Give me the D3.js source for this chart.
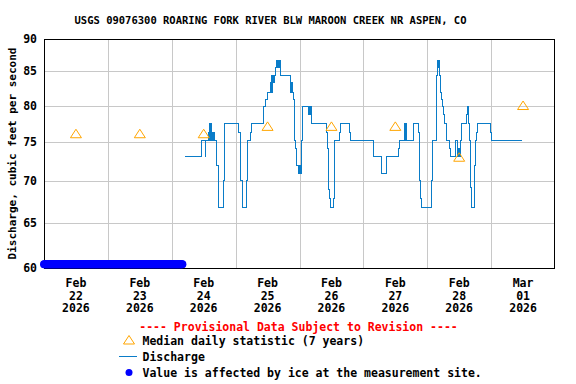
<!DOCTYPE html>
<html>
<head>
<meta charset="utf-8">
<script src="https://cdnjs.cloudflare.com/ajax/libs/d3/7.8.5/d3.min.js"></script>
<style>
  body { margin: 0; background: #fff; }
  text { font-family: "DejaVu Sans Mono", monospace; font-weight: bold; fill: #000; }
  .grid line { stroke: #c8c8c8; stroke-width: 1px; shape-rendering: crispEdges; }
  .flow { fill: none; stroke: #0a7cc8; stroke-width: 1px; shape-rendering: crispEdges; }
  .median { fill: none; stroke: #ffa500; stroke-width: 1px; }
</style>
</head>
<body>
<script>

// chart text
var title = "USGS 09076300 ROARING FORK RIVER BLW MAROON CREEK NR ASPEN, CO";
var yLabel = "Discharge, cubic feet per second";
var provisional = "---- Provisional Data Subject to Revision ----";
var legendItems = ["Median daily statistic (7 years)", "Discharge", "Value is affected by ice at the measurement site."];

// y ticks (log axis)
var yTicks = [60, 65, 70, 75, 80, 85, 90];

// median daily statistic, one per day at noon
var medianDays = ["2026-02-22", "2026-02-23", "2026-02-24", "2026-02-25", "2026-02-26", "2026-02-27", "2026-02-28", "2026-03-01"];
var medianValues = [76.1, 76.1, 76.1, 77.1, 77.1, 77.1, 73.0, 80.0];

// ice-affected period (15 minute readings, drawn at the bottom)
var iceStart = "2026-02-22 00:00", iceEnd = "2026-02-24 04:00";
var iceValue = 60.4;

// discharge (step changes)
var flowTimes = [
  "2026-02-24 05:00","2026-02-24 11:15","2026-02-24 12:30","2026-02-24 12:45","2026-02-24 13:45","2026-02-24 14:00",
  "2026-02-24 14:15","2026-02-24 14:30","2026-02-24 14:45","2026-02-24 15:00","2026-02-24 15:15","2026-02-24 15:30",
  "2026-02-24 15:45","2026-02-24 16:00","2026-02-24 17:00","2026-02-24 17:30","2026-02-24 17:45","2026-02-24 19:30",
  "2026-02-24 19:45","2026-02-24 20:00",
  "2026-02-25 01:15","2026-02-25 01:45","2026-02-25 02:00","2026-02-25 02:30","2026-02-25 02:45","2026-02-25 04:00",
  "2026-02-25 04:30","2026-02-25 05:30","2026-02-25 06:00","2026-02-25 10:30","2026-02-25 11:15","2026-02-25 12:00",
  "2026-02-25 13:00","2026-02-25 13:15","2026-02-25 13:30","2026-02-25 13:45","2026-02-25 14:00","2026-02-25 14:15",
  "2026-02-25 14:30","2026-02-25 15:00","2026-02-25 15:30","2026-02-25 15:45","2026-02-25 16:00","2026-02-25 16:15",
  "2026-02-25 16:30","2026-02-25 17:00","2026-02-25 20:30","2026-02-25 20:45","2026-02-25 21:00","2026-02-25 21:15",
  "2026-02-25 21:45","2026-02-25 22:00","2026-02-25 22:15","2026-02-25 22:30","2026-02-25 22:45","2026-02-25 23:00",
  "2026-02-25 23:30","2026-02-25 23:45",
  "2026-02-26 00:00","2026-02-26 00:15","2026-02-26 00:30","2026-02-26 00:45","2026-02-26 01:00","2026-02-26 01:15",
  "2026-02-26 03:30","2026-02-26 03:45","2026-02-26 04:00","2026-02-26 04:15","2026-02-26 04:30","2026-02-26 10:15",
  "2026-02-26 10:30","2026-02-26 10:45","2026-02-26 11:00","2026-02-26 11:15","2026-02-26 11:30","2026-02-26 12:45",
  "2026-02-26 13:00","2026-02-26 13:15","2026-02-26 15:00","2026-02-26 15:30","2026-02-26 18:45","2026-02-26 19:00",
  "2026-02-27 03:45","2026-02-27 06:45","2026-02-27 08:45","2026-02-27 13:15","2026-02-27 13:45","2026-02-27 15:30",
  "2026-02-27 15:45","2026-02-27 16:00","2026-02-27 16:15","2026-02-27 18:45","2026-02-27 20:45","2026-02-27 21:00",
  "2026-02-27 21:15","2026-02-27 21:30","2026-02-27 21:45",
  "2026-02-28 01:45","2026-02-28 02:00","2026-02-28 03:30","2026-02-28 03:45","2026-02-28 04:00","2026-02-28 04:15",
  "2026-02-28 04:30","2026-02-28 04:45","2026-02-28 05:00","2026-02-28 05:15","2026-02-28 05:45","2026-02-28 06:15",
  "2026-02-28 06:30","2026-02-28 07:15","2026-02-28 08:30","2026-02-28 08:45","2026-02-28 10:30","2026-02-28 11:15",
  "2026-02-28 11:30","2026-02-28 11:45","2026-02-28 12:00","2026-02-28 12:15","2026-02-28 12:30","2026-02-28 13:00",
  "2026-02-28 14:45","2026-02-28 15:15","2026-02-28 15:30","2026-02-28 15:45","2026-02-28 16:15","2026-02-28 16:45",
  "2026-02-28 17:45","2026-02-28 18:00","2026-02-28 18:30","2026-02-28 18:45","2026-02-28 23:45",
  "2026-03-01 00:15","2026-03-01 11:45"
];
var flowValues = [
  73.1, 75.2, 73.1, 75.2, 76.3, 77.5,
  75.2, 77.5, 76.3, 75.2, 76.3, 75.2,
  76.3, 75.2, 72.0, 70.0, 66.8, 70.0,
  75.2, 77.5,
  76.3, 74.1, 70.0, 67.9, 66.8, 70.0,
  75.2, 76.3, 77.5, 79.8, 80.9, 81.9,
  83.3, 81.9, 84.4, 81.9, 84.4, 83.3,
  84.4, 85.5, 86.7, 85.5, 86.7, 85.5,
  86.7, 84.4, 83.3, 81.9, 83.3, 81.9,
  80.9, 79.8, 75.2, 74.1, 73.1, 72.0,
  70.9, 72.0,
  70.9, 72.0, 70.9, 75.2, 78.7, 79.8,
  78.7, 79.8, 78.7, 79.8, 77.5, 76.3,
  74.1, 70.0, 68.9, 67.9, 66.8, 67.9,
  74.1, 75.2, 76.3, 77.5, 76.3, 75.2,
  73.1, 70.9, 73.1, 74.1, 75.2, 77.5,
  75.2, 77.5, 75.2, 77.5, 76.3, 72.0,
  70.0, 67.9, 66.8,
  70.0, 75.2, 84.4, 85.5, 86.7, 85.5,
  86.7, 84.4, 81.9, 80.9, 79.8, 78.7,
  77.5, 75.2, 74.1, 73.1, 75.2, 73.1,
  74.1, 73.1, 74.1, 73.1, 75.2, 77.5,
  78.7, 79.8, 77.5, 75.2, 69.2, 66.8,
  72.0, 75.2, 76.3, 77.5, 76.3,
  75.2, 75.2
];

var W = 576, H = 384;
var plot = {left: 44, right: 555, top: 39, bottom: 268};

var parseTime = d3.timeParse("%Y-%m-%d %H:%M");
var parseDay = d3.timeParse("%Y-%m-%d");

var svg = d3.select("body").append("svg")
    .attr("width", W)
    .attr("height", H);

svg.append("rect").attr("width", W).attr("height", H).attr("fill", "#fff");

var x = d3.scaleTime()
    .domain([parseDay("2026-02-22"), parseDay("2026-03-02")])
    .range([plot.left, plot.right]);

var y = d3.scaleLog()
    .domain([60, 90])
    .range([plot.bottom, plot.top]);

// grid lines
var grid = svg.append("g").attr("class", "grid");
grid.selectAll(".vgrid")
    .data(d3.timeDay.range(d3.timeDay.offset(x.domain()[0], 1), x.domain()[1]))
  .enter().append("line")
    .attr("x1", function(d) { return Math.round(x(d)) + 0.5; })
    .attr("x2", function(d) { return Math.round(x(d)) + 0.5; })
    .attr("y1", plot.top)
    .attr("y2", plot.bottom);
grid.selectAll(".hgrid")
    .data(yTicks.slice(1, -1))
  .enter().append("line")
    .attr("x1", plot.left)
    .attr("x2", plot.right)
    .attr("y1", function(d) { return Math.round(y(d)) + 0.5; })
    .attr("y2", function(d) { return Math.round(y(d)) + 0.5; });

// discharge line
var flow = flowTimes.map(function(t, i) { return {t: parseTime(t), v: flowValues[i]}; });
svg.append("path")
    .datum(flow)
    .attr("class", "flow")
    .attr("d", d3.line()
        .curve(d3.curveStepAfter)
        .x(function(d) { return x(d.t); })
        .y(function(d) { return y(d.v); }));

// median triangles
var tri = "M0,-4.5L5.5,4L-5.5,4Z";
svg.selectAll(".median")
    .data(medianDays.map(function(d, i) { return {t: d3.timeHour.offset(parseDay(d), 12), v: medianValues[i]}; }))
  .enter().append("path")
    .attr("class", "median")
    .attr("d", tri)
    .attr("transform", function(d) { return "translate(" + x(d.t) + "," + y(d.v) + ")"; });

// plot border
svg.append("rect")
    .attr("x", plot.left + 0.5)
    .attr("y", plot.top + 0.5)
    .attr("width", plot.right - plot.left - 1)
    .attr("height", plot.bottom - plot.top)
    .attr("fill", "none")
    .attr("stroke", "#000")
    .attr("shape-rendering", "crispEdges");

// ice-affected values
var iceTimes = d3.timeMinute.every(15).range(parseTime(iceStart), d3.timeMinute.offset(parseTime(iceEnd), 1));
svg.selectAll(".ice")
    .data(iceTimes)
  .enter().append("circle")
    .attr("cx", function(d) { return x(d); })
    .attr("cy", y(iceValue))
    .attr("r", 4)
    .attr("fill", "#0000ff");

// y tick labels
svg.selectAll(".ytick")
    .data(yTicks)
  .enter().append("text")
    .attr("x", 37)
    .attr("y", function(d) { return y(d) + 4; })
    .attr("text-anchor", "end")
    .style("font-size", "11.5px")
    .text(function(d) { return d; });

// x tick labels (at noon of each day)
var fmt = [d3.timeFormat("%b"), d3.timeFormat("%d"), d3.timeFormat("%Y")];
var xl = svg.selectAll(".xtick")
    .data(d3.timeDay.range(x.domain()[0], x.domain()[1]))
  .enter().append("text")
    .attr("text-anchor", "middle")
    .style("font-size", "11.5px");
fmt.forEach(function(f, i) {
  xl.append("tspan")
    .attr("x", function(d) { return x(d3.timeHour.offset(d, 12)); })
    .attr("y", 287 + i * 12.5)
    .text(function(d) { return f(d); });
});

// title
svg.append("text")
    .attr("x", 270.5)
    .attr("y", 24)
    .attr("text-anchor", "middle")
    .style("font-size", "10.5px")
    .text(title);

// y axis label
svg.append("text")
    .attr("transform", "translate(16," + (plot.top + plot.bottom) / 2 + ") rotate(-90)")
    .attr("text-anchor", "middle")
    .style("font-size", "11px")
    .text(yLabel);

// provisional note
svg.append("text")
    .attr("x", 298.5)
    .attr("y", 331)
    .attr("text-anchor", "middle")
    .style("font-size", "11.5px")
    .style("fill", "#ff0000")
    .text(provisional);

// legend
var lg = svg.append("g").style("font-size", "11.5px");
lg.append("path").attr("class", "median").attr("d", tri).attr("transform", "translate(129,340)");
lg.append("line").attr("x1", 119).attr("x2", 137).attr("y1", 356.5).attr("y2", 356.5)
    .attr("stroke", "#0a7cc8").attr("stroke-width", 1);
lg.append("circle").attr("cx", 129).attr("cy", 372.5).attr("r", 3.5).attr("fill", "#0000ff");
legendItems.forEach(function(t, i) {
  lg.append("text").attr("x", 142.5).attr("y", 345 + i * 16).text(t);
});

</script>
</body>
</html>
